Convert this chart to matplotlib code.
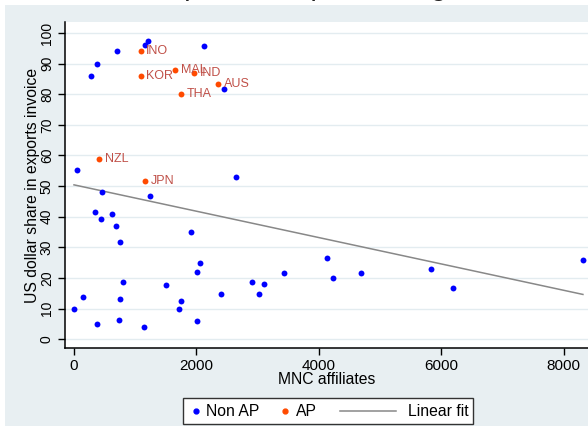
import numpy as np
import matplotlib
matplotlib.use('Agg')
import matplotlib.pyplot as plt
from matplotlib.lines import Line2D
from matplotlib.patches import Rectangle

plt.rcParams['font.family'] = ['Liberation Sans', 'DejaVu Sans']

# non-AP economies: MNC affiliates vs US dollar share in export invoicing
nonap_mnc = [708, 1166, 1204, 2130, 370, 272, 2446, 55, 2641, 463, 1237,
             343, 436, 616, 686, 757, 1912, 2059, 2010, 806, 1503, 152,
             757, 1748, 5, 1721, 2397, 370, 730, 2010, 1144, 2903, 3023,
             3099, 3437, 4139, 4237, 4695, 5833, 6193, 8317]
nonap_usd = [94.1, 96.1, 97.5, 95.6, 89.9, 86.0, 81.6, 55.4, 53.0, 48.1, 46.7,
             41.4, 39.4, 40.8, 37.0, 31.7, 35.1, 24.8, 22.0, 18.6, 17.6, 13.7,
             13.2, 12.3, 9.8, 9.8, 14.7, 5.0, 6.4, 6.0, 4.0, 18.6, 14.7,
             18.1, 21.5, 26.4, 20.0, 21.5, 23.0, 16.7, 25.8]

# Asia-Pacific economies
ap_names = ['INO', 'KOR', 'MAL', 'IND', 'AUS', 'THA', 'NZL', 'JPN']
ap_mnc = [1089, 1089, 1650, 1961, 2353, 1743, 414, 1166]
ap_usd = [94.1, 86.0, 87.9, 86.8, 83.5, 80.1, 58.8, 51.5]

# linear fit line as drawn (end points)
fit_x = [0, 8317]
fit_y = [50.4, 14.6]

xticks = [0, 2000, 4000, 6000, 8000]
yticks = list(range(0, 101, 10))

BLUE = '#0000ff'
ORANGE = '#ff4a00'
GREY = '#888888'

W, H = 588, 426
fig = plt.figure(figsize=(W / 100, H / 100), dpi=100)
fig.patch.set_facecolor('white')
fig.patches.append(Rectangle((5 / W, 0), 1, 1 - 5 / H, transform=fig.transFigure,
                             facecolor='#e8eff2', edgecolor='none', zorder=-5))

# title, cut off by the top edge
fig.text(0.522, 1 + 5 / H, 'Exports, simple average', ha='center', va='baseline',
         fontsize=21, color='#222222', zorder=-6)

ax = fig.add_axes([65 / W, 1 - 348 / H, 1 - 65 / W, (348 - 22) / H])
ax.set_facecolor('white')

ax.plot(fit_x, fit_y, color=GREY, lw=1.1, zorder=2)
ax.scatter(nonap_mnc, nonap_usd, s=18, color=BLUE, zorder=3, linewidths=0)
ax.scatter(ap_mnc, ap_usd, s=18, color=ORANGE, zorder=3, linewidths=0)
for n, xv, yv in zip(ap_names, ap_mnc, ap_usd):
    ax.annotate(n, (xv, yv), xytext=(4, 0), textcoords='offset points',
                va='center', ha='left', fontsize=9, color='#c05048')

ax.set_xlim(-147, 8400)
ax.set_ylim(-2.9, 103.6)
ax.set_xticks(xticks)
ax.set_yticks(yticks)
ax.grid(axis='y', color='#e3ecf0', lw=1)
ax.set_axisbelow(True)
for s in ['top', 'right']:
    ax.spines[s].set_visible(False)
for s in ['left', 'bottom']:
    ax.spines[s].set_linewidth(1.1)
ax.tick_params(direction='out', length=5, width=1, pad=3)
ax.tick_params(axis='x', labelsize=11)
ax.tick_params(axis='y', labelsize=10)
for lab in ax.get_yticklabels():
    lab.set_rotation(90)
    lab.set_va('center')
ax.set_xlabel('MNC affiliates', fontsize=11.3, labelpad=-1)
ax.set_ylabel('US dollar share in exports invoice', fontsize=11.3, labelpad=0)

# legend drawn by hand (handles of different lengths, as in the original)
def fx(px):
    return px / W

def fy(py):
    return 1 - py / H

fig.patches.append(Rectangle((fx(183), fy(424)), fx(473) - fx(183), fy(398) - fy(424),
                             transform=fig.transFigure, facecolor='white',
                             edgecolor='#333333', lw=1.0, zorder=5))
ly = fy(411)
fig.lines.append(Line2D([fx(196)], [ly], marker='o', ms=3.5, color=BLUE,
                        transform=fig.transFigure, zorder=6))
fig.text(fx(206), ly, 'Non AP', va='center', ha='left', fontsize=11.3, zorder=6)
fig.lines.append(Line2D([fx(285)], [ly], marker='o', ms=3.5, color=ORANGE,
                        transform=fig.transFigure, zorder=6))
fig.text(fx(296), ly, 'AP', va='center', ha='left', fontsize=11.3, zorder=6)
fig.lines.append(Line2D([fx(340), fx(396)], [ly, ly], color=GREY, lw=1.1,
                        transform=fig.transFigure, zorder=6))
fig.text(fx(408), ly, 'Linear fit', va='center', ha='left', fontsize=11.3, zorder=6)

fig.savefig('out.png', dpi=100)
